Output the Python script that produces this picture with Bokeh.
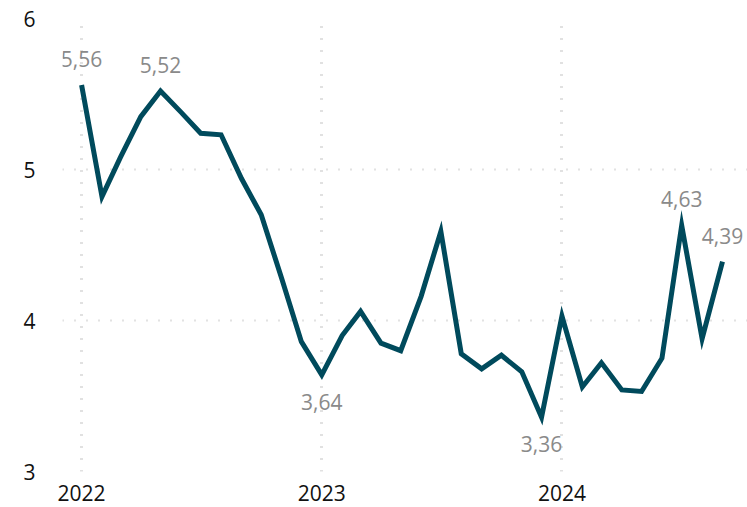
from datetime import datetime
from bokeh.plotting import figure
from bokeh.models import ColumnDataSource, FixedTicker, DatetimeTickFormatter, Range1d, LabelSet
from bokeh.core.properties import value
from bokeh.embed import file_html
from bokeh.resources import INLINE

months = [datetime(2022 + (i // 12), i % 12 + 1, 1) for i in range(33)]
values = [5.56, 4.82, 5.08, 5.35, 5.52, 5.38, 5.24, 5.23, 4.94, 4.70, 4.28, 3.86,
          3.64, 3.90, 4.06, 3.85, 3.80, 4.16, 4.59, 3.78, 3.68, 3.77, 3.66, 3.36,
          4.03, 3.56, 3.72, 3.54, 3.53, 3.75, 4.63, 3.88, 4.39]
label_idx_above = [0, 4, 30, 32]
label_idx_below = [12, 23]
year_ticks = [datetime(2022, 1, 1), datetime(2023, 1, 1), datetime(2024, 1, 1)]
y_ticks = [3, 4, 5, 6]

def ms(d):
    return d.timestamp() * 1000

FONT = "Open Sans"

p = figure(width=747, height=507, x_axis_type="datetime", output_backend="svg",
           toolbar_location=None, min_border_left=62, min_border_right=0,
           min_border_top=18, min_border_bottom=36)
p.x_range = Range1d(ms(datetime(2021, 12, 3)), ms(datetime(2024, 10, 9)))
p.y_range = Range1d(3, 6)
p.outline_line_color = None
p.background_fill_color = "white"
p.border_fill_color = "white"

src = ColumnDataSource(dict(x=months, y=values))
p.line("x", "y", source=src, line_color="#004a5c", line_width=5, line_join="miter")

def fmt(v):
    return f"{v:.2f}".replace(".", ",")

above = ColumnDataSource(dict(x=[months[i] for i in label_idx_above],
                              y=[values[i] for i in label_idx_above],
                              t=[fmt(values[i]) for i in label_idx_above]))
below = ColumnDataSource(dict(x=[months[i] for i in label_idx_below],
                              y=[values[i] for i in label_idx_below],
                              t=[fmt(values[i]) for i in label_idx_below]))
for s, yoff in [(above, 26), (below, -27)]:
    ls = LabelSet(x="x", y="y", text="t", source=s, x_offset=0, y_offset=yoff,
                  text_align="center", text_baseline="middle", text_color="#8a8a8a",
                  text_font=value(FONT), text_font_size=value("21px"))
    p.add_layout(ls)

p.xaxis.ticker = FixedTicker(ticks=[ms(d) for d in year_ticks])
p.xaxis.formatter = DatetimeTickFormatter(years="%Y", months="%Y", days="%Y")
p.yaxis.ticker = FixedTicker(ticks=y_ticks)
for ax in (p.xaxis[0], p.yaxis[0]):
    ax.axis_line_color = None
    ax.major_tick_line_color = None
    ax.minor_tick_line_color = None
    ax.major_label_text_font = FONT
    ax.major_label_text_font_size = "21px"
    ax.major_label_text_color = "#111111"
p.xaxis.major_label_standoff = 7
p.yaxis.major_label_standoff = 21

p.xgrid.ticker = FixedTicker(ticks=[ms(d) for d in year_ticks])
p.xgrid.grid_line_color = "#c4c4c4"
p.xgrid.grid_line_width = 3
p.xgrid.grid_line_dash = "1 11"
p.ygrid.grid_line_color = "#c4c4c4"
p.ygrid.grid_line_width = 2
p.ygrid.grid_line_dash = "1 11"

open("out.html", "w").write(file_html(p, INLINE))
